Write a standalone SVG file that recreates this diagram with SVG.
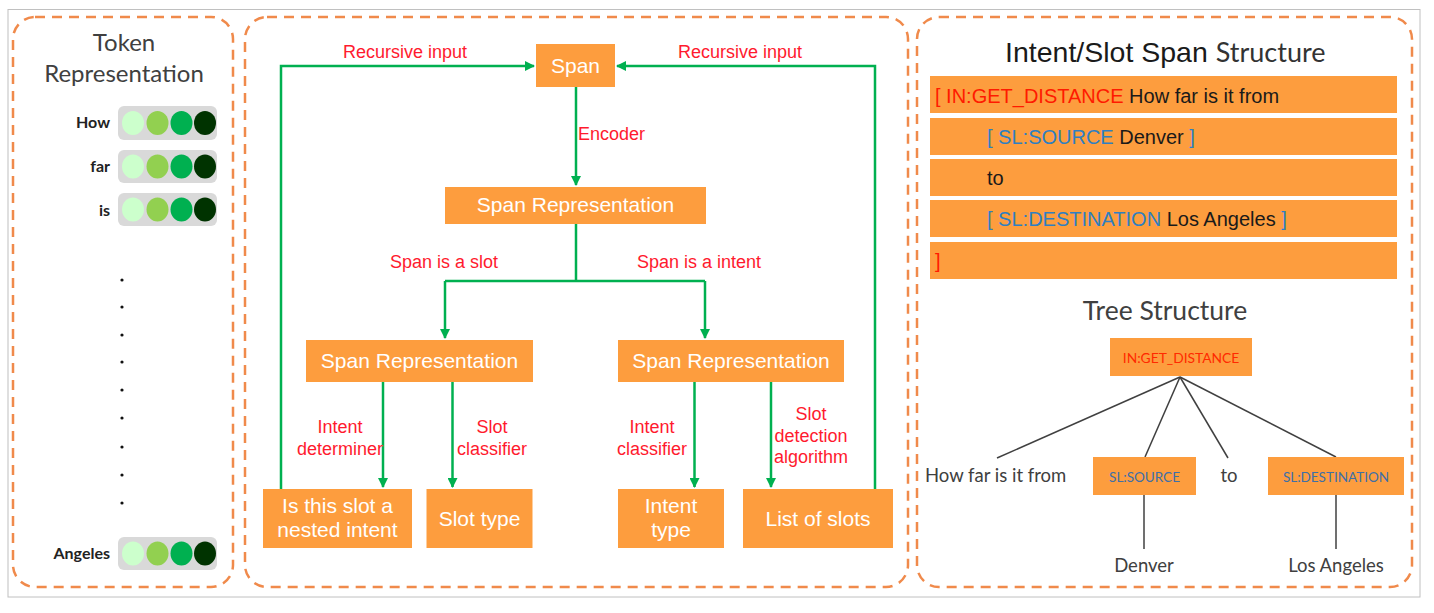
<svg xmlns="http://www.w3.org/2000/svg" width="1434" height="613" viewBox="0 0 1434 613">
<defs>
<style>
.panel{fill:none;stroke:#f08a4b;stroke-width:2.5;stroke-dasharray:10 7}
.box{fill:#fd9d3e}
.wt{font-family:"Liberation Sans",Arial,sans-serif;font-size:21px;fill:#ffffff;text-anchor:middle}
.lbl{font-family:"Liberation Sans",Arial,sans-serif;font-size:18px;fill:#ff1a2e}
.lblm{font-family:"Liberation Sans",Arial,sans-serif;font-size:18px;fill:#ff1a2e;text-anchor:middle}
.conn{fill:none;stroke:#00b050;stroke-width:2.5}
.tree{fill:none;stroke:#404040;stroke-width:1.5}
.tok{font-family:Lato,"Open Sans",sans-serif;font-size:16px;font-weight:bold;fill:#222;text-anchor:end}
.bar{fill:#d9d9d9}
.row{font-family:"Liberation Sans",Arial,sans-serif;font-size:20px;fill:#1a1a1a}
.red{fill:#ff1a00}
.blue{fill:#2f7fc1}
.cal{font-family:Lato,"Open Sans",sans-serif;fill:#404040}
</style>
<marker id="arr" viewBox="0 0 10 10" refX="9" refY="5" markerWidth="4" markerHeight="4" orient="auto-start-reverse" markerUnits="strokeWidth">
<path d="M0,0 L10,5 L0,10 z" fill="#00b050"/>
</marker>
</defs>
<rect x="0" y="0" width="1434" height="613" fill="#ffffff"/>
<rect x="8" y="9.5" width="1412" height="587.5" fill="none" stroke="#c0c0c0" stroke-width="1"/>

<g id="panel-token">
<rect class="panel" x="13" y="17" width="220" height="570" rx="22"/>
<text class="cal" x="124" y="51" font-size="24" text-anchor="middle" fill="#333">Token</text>
<text class="cal" x="124" y="82" font-size="24" text-anchor="middle" fill="#333">Representation</text>
<g id="tok-how">
<text class="tok" x="110" y="128">How</text>
<rect class="bar" x="118" y="106" width="99" height="34" rx="6"/>
<ellipse cx="133" cy="123" rx="11" ry="12" fill="#ccffcc"/>
<ellipse cx="157.5" cy="123" rx="11" ry="12" fill="#92d050"/>
<ellipse cx="181.5" cy="123" rx="11" ry="12" fill="#00b050"/>
<ellipse cx="205" cy="123" rx="11" ry="12" fill="#003300"/>
</g>
<g id="tok-far">
<text class="tok" x="110" y="172">far</text>
<rect class="bar" x="118" y="150" width="99" height="33" rx="6"/>
<ellipse cx="133" cy="166.5" rx="11" ry="12" fill="#ccffcc"/>
<ellipse cx="157.5" cy="166.5" rx="11" ry="12" fill="#92d050"/>
<ellipse cx="181.5" cy="166.5" rx="11" ry="12" fill="#00b050"/>
<ellipse cx="205" cy="166.5" rx="11" ry="12" fill="#003300"/>
</g>
<g id="tok-is">
<text class="tok" x="110" y="216">is</text>
<rect class="bar" x="118" y="193" width="99" height="33" rx="6"/>
<ellipse cx="133" cy="209.5" rx="11" ry="12" fill="#ccffcc"/>
<ellipse cx="157.5" cy="209.5" rx="11" ry="12" fill="#92d050"/>
<ellipse cx="181.5" cy="209.5" rx="11" ry="12" fill="#00b050"/>
<ellipse cx="205" cy="209.5" rx="11" ry="12" fill="#003300"/>
</g>
<g id="dots" fill="#111">
<circle cx="122" cy="280" r="1.6"/>
<circle cx="122" cy="307" r="1.6"/>
<circle cx="122" cy="335" r="1.6"/>
<circle cx="122" cy="362" r="1.6"/>
<circle cx="122" cy="390" r="1.6"/>
<circle cx="122" cy="418" r="1.6"/>
<circle cx="122" cy="447" r="1.6"/>
<circle cx="122" cy="475" r="1.6"/>
<circle cx="122" cy="503" r="1.6"/>
</g>
<g id="tok-angeles">
<text class="tok" x="110" y="559">Angeles</text>
<rect class="bar" x="118" y="537" width="99" height="33" rx="6"/>
<ellipse cx="133" cy="553.5" rx="11" ry="12" fill="#ccffcc"/>
<ellipse cx="157.5" cy="553.5" rx="11" ry="12" fill="#92d050"/>
<ellipse cx="181.5" cy="553.5" rx="11" ry="12" fill="#00b050"/>
<ellipse cx="205" cy="553.5" rx="11" ry="12" fill="#003300"/>
</g>
</g>

<g id="panel-flow">
<rect class="panel" x="245" y="17" width="663" height="570" rx="22"/>
</g>

<g id="connectors">
<path class="conn" d="M281,489 V66 H534" marker-end="url(#arr)"/>
<path class="conn" d="M875,489 V66 H617" marker-end="url(#arr)"/>
<path class="conn" d="M576,87 V185" marker-end="url(#arr)"/>
<path class="conn" d="M576,224 V281"/>
<path class="conn" d="M445,281 H705"/>
<path class="conn" d="M445,281 V338" marker-end="url(#arr)"/>
<path class="conn" d="M705,281 V338" marker-end="url(#arr)"/>
<path class="conn" d="M383,382 V487" marker-end="url(#arr)"/>
<path class="conn" d="M452.5,382 V487" marker-end="url(#arr)"/>
<path class="conn" d="M694.5,382 V487" marker-end="url(#arr)"/>
<path class="conn" d="M771,382 V487" marker-end="url(#arr)"/>
<text class="lbl" x="343" y="58">Recursive input</text>
<text class="lbl" x="678" y="58">Recursive input</text>
<text class="lbl" x="578" y="140">Encoder</text>
<text class="lbl" x="390" y="268">Span is a slot</text>
<text class="lbl" x="637" y="268">Span is a intent</text>
<text class="lblm" x="340" y="433">Intent</text>
<text class="lblm" x="340" y="455">determiner</text>
<text class="lblm" x="492" y="433">Slot</text>
<text class="lblm" x="492" y="455">classifier</text>
<text class="lblm" x="652" y="433">Intent</text>
<text class="lblm" x="652" y="455">classifier</text>
<text class="lblm" x="811" y="420">Slot</text>
<text class="lblm" x="811" y="442">detection</text>
<text class="lblm" x="811" y="463">algorithm</text>
</g>

<g id="node-span">
<rect class="box" x="536" y="44" width="79" height="43"/>
<text class="wt" x="575.5" y="73">Span</text>
</g>
<g id="node-spanrep">
<rect class="box" x="445" y="187" width="261" height="37"/>
<text class="wt" x="575.5" y="212">Span Representation</text>
</g>
<g id="node-spanrep-slot">
<rect class="box" x="306" y="340" width="227" height="42"/>
<text class="wt" x="419.5" y="368">Span Representation</text>
</g>
<g id="node-spanrep-intent">
<rect class="box" x="618" y="340" width="226" height="42"/>
<text class="wt" x="731" y="368">Span Representation</text>
</g>
<g id="node-nested">
<rect class="box" x="263" y="489" width="149" height="59"/>
<text class="wt" x="337.5" y="513">Is this slot a</text>
<text class="wt" x="337.5" y="537">nested intent</text>
</g>
<g id="node-slottype">
<rect class="box" x="426.5" y="489" width="106" height="59"/>
<text class="wt" x="479.5" y="526">Slot type</text>
</g>
<g id="node-intenttype">
<rect class="box" x="618" y="489" width="106" height="59"/>
<text class="wt" x="671" y="513">Intent</text>
<text class="wt" x="671" y="537">type</text>
</g>
<g id="node-listslots">
<rect class="box" x="743" y="489" width="150" height="59"/>
<text class="wt" x="818" y="526">List of slots</text>
</g>

<g id="panel-structure">
<rect class="panel" x="917" y="17" width="495" height="570" rx="22"/>
<text x="1005" y="62" font-size="28.5" fill="#1a1a1a" font-family="'Liberation Sans',Arial,sans-serif">Intent/Slot Span <tspan font-family="Lato,'Open Sans',sans-serif" font-size="27" fill="#333">Structure</tspan></text>
<g id="span-rows">
<rect class="box" x="930" y="76" width="467" height="37"/>
<rect class="box" x="930" y="118" width="467" height="37"/>
<rect class="box" x="930" y="159" width="467" height="37"/>
<rect class="box" x="930" y="200" width="467" height="37"/>
<rect class="box" x="930" y="242" width="467" height="37"/>
<text class="row" x="935" y="103"><tspan class="red">[ IN:GET_DISTANCE</tspan> How far is it from</text>
<text class="row" x="987" y="144"><tspan class="blue">[ SL:SOURCE</tspan> Denver <tspan class="blue">]</tspan></text>
<text class="row" x="987" y="185">to</text>
<text class="row" x="987" y="226"><tspan class="blue">[ SL:DESTINATION</tspan> Los Angeles <tspan class="blue">]</tspan></text>
<text class="row red" x="935" y="268">]</text>
</g>
<text class="cal" x="1165" y="320" font-size="26.5" text-anchor="middle" fill="#262626">Tree Structure</text>
</g>

<g id="tree-edges">
<path class="tree" d="M1180,377 L997,458"/>
<path class="tree" d="M1180,377 L1145,457"/>
<path class="tree" d="M1180,377 L1228,458"/>
<path class="tree" d="M1180,377 L1336,457"/>
<path class="tree" d="M1144,495 V549"/>
<path class="tree" d="M1336,495 V549"/>
</g>
<g id="tree-root">
<rect class="box" x="1110" y="338" width="142" height="38"/>
<text x="1181" y="363" font-family="Lato,'Open Sans',sans-serif" font-size="13.8" fill="#ff2a00" text-anchor="middle">IN:GET_DISTANCE</text>
</g>
<g id="tree-source">
<rect class="box" x="1093" y="457" width="103" height="38"/>
<text x="1144.5" y="482" font-family="Lato,'Open Sans',sans-serif" font-size="13.5" fill="#3e6fa8" text-anchor="middle">SL:SOURCE</text>
</g>
<g id="tree-destination">
<rect class="box" x="1268" y="457" width="136" height="38"/>
<text x="1336" y="482" font-family="Lato,'Open Sans',sans-serif" font-size="13.5" fill="#3e6fa8" text-anchor="middle">SL:DESTINATION</text>
</g>
<g id="tree-leaves">
<text class="cal" x="925" y="482" font-size="18.5">How far is it from</text>
<text class="cal" x="1229" y="482" font-size="18.5" text-anchor="middle">to</text>
<text class="cal" x="1144" y="572" font-size="18.5" text-anchor="middle">Denver</text>
<text class="cal" x="1336" y="572" font-size="18.5" text-anchor="middle">Los Angeles</text>
</g>
</svg>
